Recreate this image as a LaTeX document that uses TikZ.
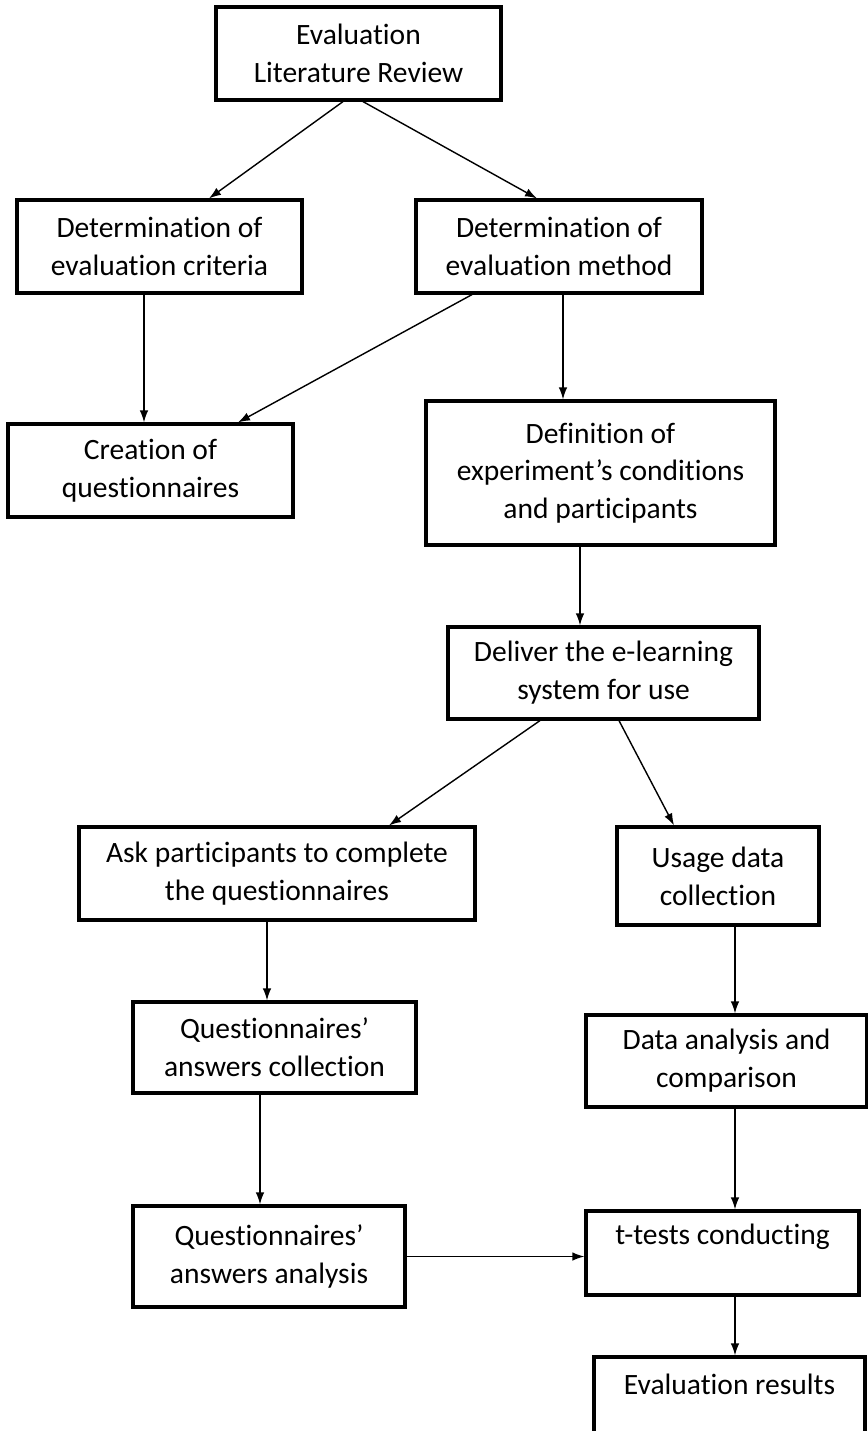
\documentclass[tikz,border=0pt]{standalone}
\usepackage{fontspec}
\setmainfont{Carlito}[Ligatures=NoCommon]
\usetikzlibrary{arrows.meta}

\tikzset{
    stepbox/.style={draw, line width=1.8pt, align=center, inner sep=2pt,
                    font=\fontsize{16.8}{21.5}\selectfont},
    flow/.style={-{Latex[length=2.4mm,width=1.7mm]}, line width=0.8pt}
}

\begin{document}
\begin{tikzpicture}

    \useasboundingbox (0,0) rectangle (17.36,-28.62);

    % 1st Row 
    % -------
    \node[stepbox, minimum width=5.7cm, minimum height=1.86cm] (lit) at (7.17,-1.07) {Evaluation\\Literature Review};

    % 2nd Row 
    % -------
    \node[stepbox, minimum width=5.7cm, minimum height=1.86cm] (crit) at (3.19,-4.93) {Determination of\\evaluation criteria};
    \node[stepbox, minimum width=5.72cm, minimum height=1.86cm] (meth) at (11.18,-4.93) {Determination of\\evaluation method};

    % 3rd Row 
    % -------
    \node[stepbox, minimum width=5.7cm, minimum height=1.86cm] (quest) at (3.01,-9.41) {Creation of\\questionnaires};
    \node[stepbox, minimum width=6.98cm, minimum height=2.88cm] (cond) at (12.01,-9.46) {Definition of\\experiment’s conditions\\and participants};

    % 4th Row 
    % -------
    \node[stepbox, minimum width=6.22cm, minimum height=1.84cm] (deliv) at (12.07,-13.46) {Deliver the e-learning\\system for use};

    % 5th Row 
    % -------
    \node[stepbox, minimum width=7.92cm, minimum height=1.86cm] (ask) at (5.54,-17.47) {Ask participants to complete\\the questionnaires};
    \node[stepbox, minimum width=4.04cm, minimum height=1.96cm] (usage) at (14.36,-17.52) {Usage data\\collection};

    % 6th Row 
    % -------
    \node[stepbox, minimum width=5.66cm, minimum height=1.82cm] (collq) at (5.49,-20.95) {Questionnaires’\\answers collection};
    \node[stepbox, minimum width=5.62cm, minimum height=1.84cm] (dana) at (14.53,-21.22) {Data analysis and\\comparison};

    % 7th Row 
    % -------
    \node[stepbox, minimum width=5.44cm, minimum height=2.02cm] (anq) at (5.38,-25.13) {Questionnaires’\\answers analysis};
    \node[stepbox, minimum width=5.46cm, minimum height=1.68cm] (ttest) at (14.45,-25.06) {t-tests conducting\\\mbox{}};

    % 8th Row 
    % -------
    \node[stepbox, minimum width=5.42cm, minimum height=1.86cm] (res) at (14.59,-28.07) {Evaluation results\\\mbox{}};

    % Draw Paths 
    % ----------
    \draw[flow] ([xshift=-0.31cm]lit.south) -- ([xshift=0.99cm]crit.north);
    \draw[flow] ([xshift=0.09cm]lit.south) -- ([xshift=-0.44cm]meth.north);
    \draw[flow] ([xshift=-0.31cm]crit.south) -- ([xshift=-0.31cm]crit.south |- quest.north);
    \draw[flow] ([xshift=-1.74cm]meth.south) -- ([xshift=1.75cm]quest.north);
    \draw[flow] ([xshift=0.08cm]meth.south) -- ([xshift=0.08cm]meth.south |- cond.north);
    \draw[flow] ([xshift=-0.41cm]cond.south) -- ([xshift=-0.41cm]cond.south |- deliv.north);
    \draw[flow] ([xshift=-1.27cm]deliv.south) -- ([xshift=2.24cm]ask.north);
    \draw[flow] ([xshift=0.31cm]deliv.south) -- ([xshift=-0.88cm]usage.north);
    \draw[flow] ([xshift=-0.2cm]ask.south) -- ([xshift=-0.2cm]ask.south |- collq.north);
    \draw[flow] ([xshift=0.34cm]usage.south) -- ([xshift=0.34cm]usage.south |- dana.north);
    \draw[flow] ([xshift=-0.29cm]collq.south) -- ([xshift=-0.29cm]collq.south |- anq.north);
    \draw[flow] ([xshift=0.17cm]dana.south) -- ([xshift=0.17cm]dana.south |- ttest.north);
    \draw[flow] (anq.east) -- (anq.east -| ttest.west);
    \draw[flow] ([xshift=0.25cm]ttest.south) -- ([xshift=0.25cm]ttest.south |- res.north);

\end{tikzpicture}
\end{document}
